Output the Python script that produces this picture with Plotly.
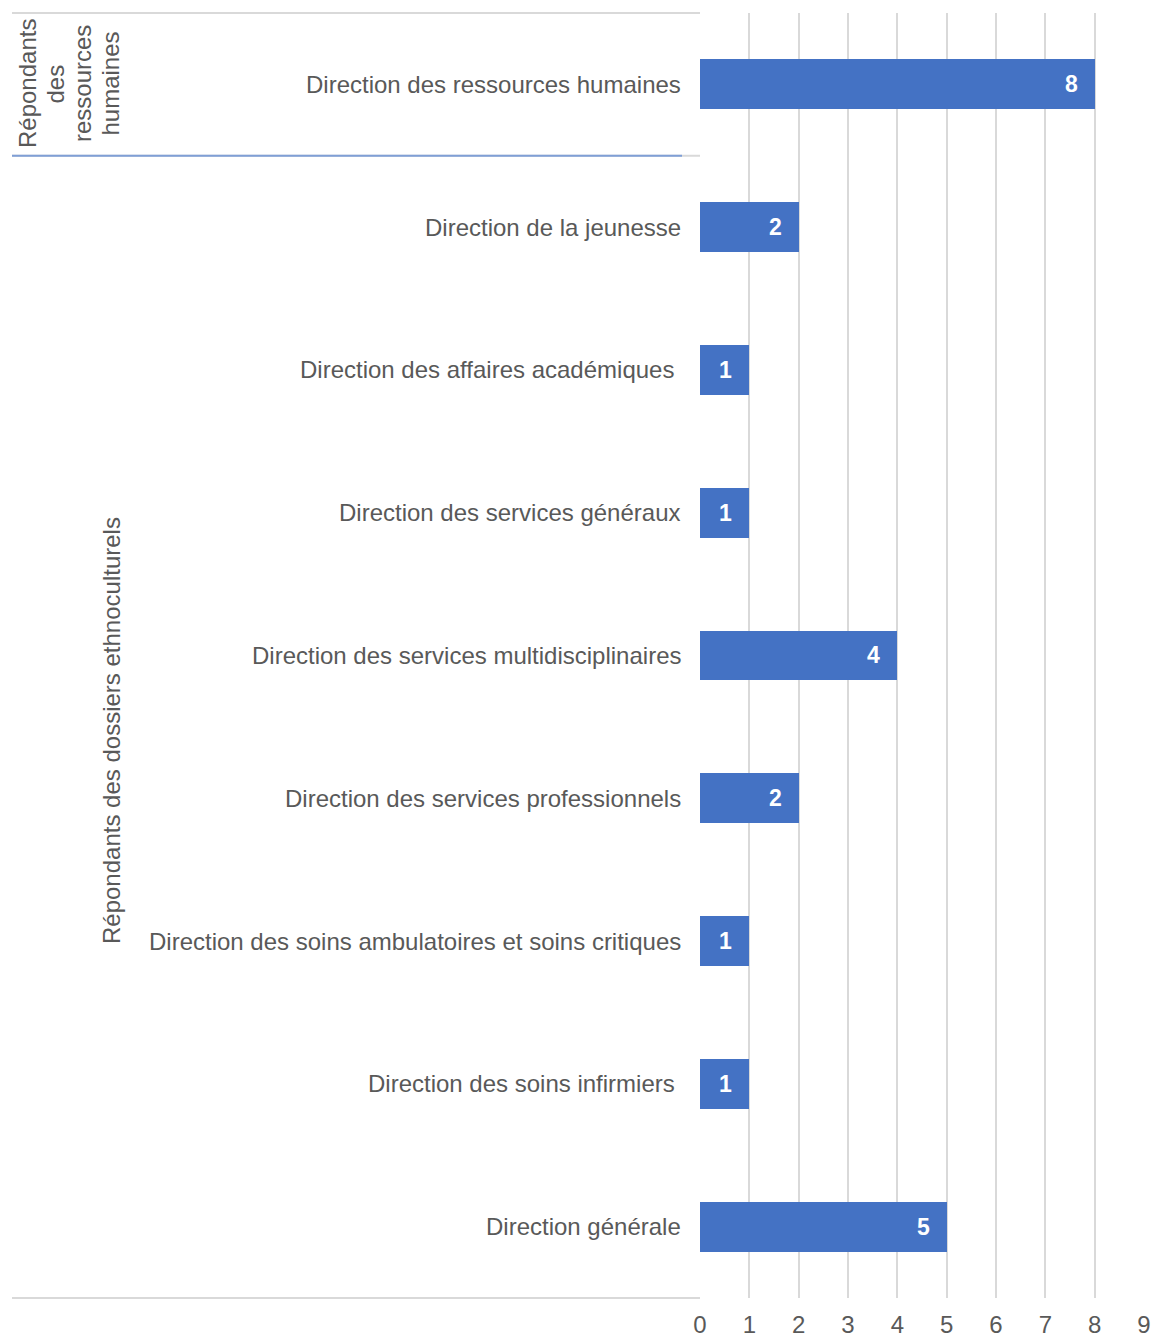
import plotly.graph_objects as go

categories = [
    "Direction des ressources humaines",
    "Direction de la jeunesse",
    "Direction des affaires académiques ",
    "Direction des services généraux",
    "Direction des services multidisciplinaires",
    "Direction des services professionnels",
    "Direction des soins ambulatoires et soins critiques",
    "Direction des soins infirmiers ",
    "Direction générale",
]
values = [8, 2, 1, 1, 4, 2, 1, 1, 5]
group_1_lines = ["Répondants", "des", "ressources", "humaines"]
group_2_label = "Répondants des dossiers ethnoculturels"
group_sizes = [1, 8]
x_ticks = [0, 1, 2, 3, 4, 5, 6, 7, 8, 9]

W, H = 1152, 1338
X0, X1 = 700, 1144
Y0, Y1 = 13, 1298
FONT = "Liberation Sans, Arial, sans-serif"
GRAY = "#595959"
BLUE = "#4472C4"
GRID = "#D9D9D9"


def px(x):
    return x / W


def py(y):
    return 1 - y / H


fig = go.Figure()
fig.add_trace(go.Bar(
    x=values, y=categories, orientation="h",
    marker=dict(color=BLUE, line=dict(width=0)),
    width=0.35, hoverinfo="skip",
))

ann = []
for c, v in zip(categories, values):
    label = c.rstrip() + ("\u00a0" if c.endswith(" ") else "")
    ann.append(dict(x=px(683), xref="paper", y=c, yref="y", text=label,
                    xanchor="right", yanchor="middle", showarrow=False,
                    font=dict(family=FONT, size=24, color=GRAY)))
    ann.append(dict(x=v, xref="x", y=c, yref="y", text=f"<b>{v}</b>", xanchor="right", yanchor="middle",
                    xshift=-15, showarrow=False, font=dict(family=FONT, size=23, color="white")))

# group labels (first one wrapped on four lines)
LINE = 27.5
first_x = 28
for i, line in enumerate(group_1_lines):
    ann.append(dict(x=px(first_x + i * LINE), y=py(84), xref="paper", yref="paper", text=line, textangle=-90,
                    showarrow=False, xanchor="center", yanchor="middle",
                    font=dict(family=FONT, size=24, color=GRAY)))
ann.append(dict(x=px(111), y=py(731), xref="paper", yref="paper", text=group_2_label, textangle=-90,
                showarrow=False, xanchor="center", yanchor="middle",
                font=dict(family=FONT, size=24, color=GRAY)))

shapes = []
cat_h = (Y1 - Y0) / len(categories)
sep_y = Y0 + group_sizes[0] * cat_h
for y in [Y0, sep_y, Y1]:
    shapes.append(dict(type="line", xref="paper", yref="paper", x0=px(12), x1=px(X0), y0=py(y), y1=py(y),
                       line=dict(color=GRID, width=2)))
shapes.append(dict(type="line", xref="paper", yref="paper", x0=px(12), x1=px(682), y0=py(sep_y), y1=py(sep_y),
                   line=dict(color="#7F9FD6", width=2)))

fig.update_layout(
    width=W, height=H,
    margin=dict(l=0, r=0, t=0, b=0, autoexpand=False),
    paper_bgcolor="white", plot_bgcolor="white",
    showlegend=False, bargap=0,
    xaxis=dict(domain=[px(X0), px(X1)], range=[0, 9], tickvals=x_ticks, showgrid=True, gridcolor=GRID,
               gridwidth=2, zeroline=False, showline=False, ticks="", ticklabelstandoff=10, automargin=False,
               tickfont=dict(family=FONT, size=24, color=GRAY)),
    yaxis=dict(domain=[py(Y1), py(Y0)], categoryorder="array", categoryarray=categories,
               range=[len(categories) - 0.5, -0.5], showticklabels=False, showgrid=False, zeroline=False,
               showline=False, ticks="", automargin=False),
    annotations=ann, shapes=shapes,
)
fig.write_html(
    "out.html",
    config={"displayModeBar": False},
    post_script="document.body.style.margin='0';document.body.style.overflow='hidden';",
)
